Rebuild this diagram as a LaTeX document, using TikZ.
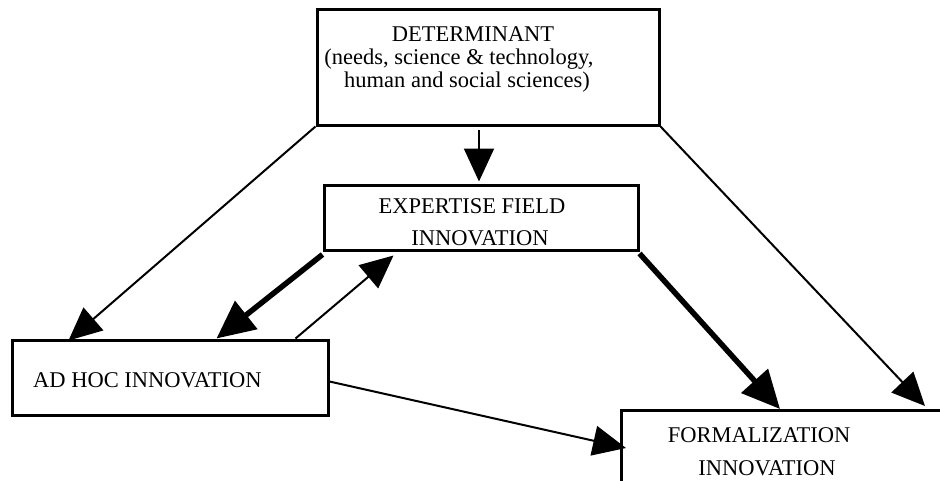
\documentclass[tikz,border=0pt]{standalone}
\usepackage{fontspec}
\setmainfont{Liberation Serif}
\usetikzlibrary{arrows.meta,calc}
\begin{document}
\begin{tikzpicture}[x=1pt,y=-1pt,
  box/.style={draw,line width=3pt,rectangle,inner sep=0pt},
  txt/.style={inner sep=0pt,font=\fontsize{22.5}{25}\selectfont},
  thinarr/.style={line width=2pt,-{Triangle[length=33pt,width=30pt]}},
  thickarr/.style={line width=5.5pt,-{Triangle[length=38pt,width=35pt]}}]
\useasboundingbox (0,0) rectangle (940,480);
\clip (0,0) rectangle (940,480);
\fill[white] (0,0) rectangle (940,480);
% boxes
\node[box,minimum width=342pt,minimum height=116pt] (det) at (488,67) {};
\node[box,minimum width=314pt,minimum height=65pt] (exp) at (481,217.5) {};
\node[box,minimum width=316pt,minimum height=75pt] (adhoc) at (170,377.5) {};
\node[box,minimum width=360pt,minimum height=120pt,anchor=north west] (form) at (620,409) {};
% texts
\node[txt,anchor=base] (t1) at (473,41) {DETERMINANT};
\node[txt,anchor=base] (t2) at (459,64) {(needs, science \& technology,};
\node[txt,anchor=base] (t3) at (467,87) {human and social sciences)};
\node[txt,anchor=base] (t4) at (472,213) {EXPERTISE FIELD};
\node[txt,anchor=base] (t5) at (480,245) {INNOVATION};
\node[txt,anchor=base west] (t6) at (33,387) {AD HOC INNOVATION};
\node[txt,anchor=base] (t7) at (759,442) {FORMALIZATION};
\node[txt,anchor=base] (t8) at (767,475) {INNOVATION};
% connectors
\draw[thinarr] ($(det.south)+(-9,3)$) -- ($(exp.north)+(-2,-2)$);
\draw[thinarr] (det.south west) -- ($(adhoc.north west)+(58,2)$);
\draw[thinarr] (det.south east) -- ($(form.north west)+(305,-3)$);
\draw[thickarr] ($(exp.south west)+(0,3)$) -- ($(adhoc.north west)+(206,0)$);
\draw[thinarr] ($(adhoc.north west)+(285,0)$) -- ($(exp.south west)+(71,4)$);
\draw[thickarr] ($(exp.south east)+(0,2)$) -- ($(form.north west)+(160,0)$);
\draw[thinarr] ($(adhoc.north east)+(0,43)$) -- ($(form.north west)+(6,39)$);
\end{tikzpicture}
\end{document}
